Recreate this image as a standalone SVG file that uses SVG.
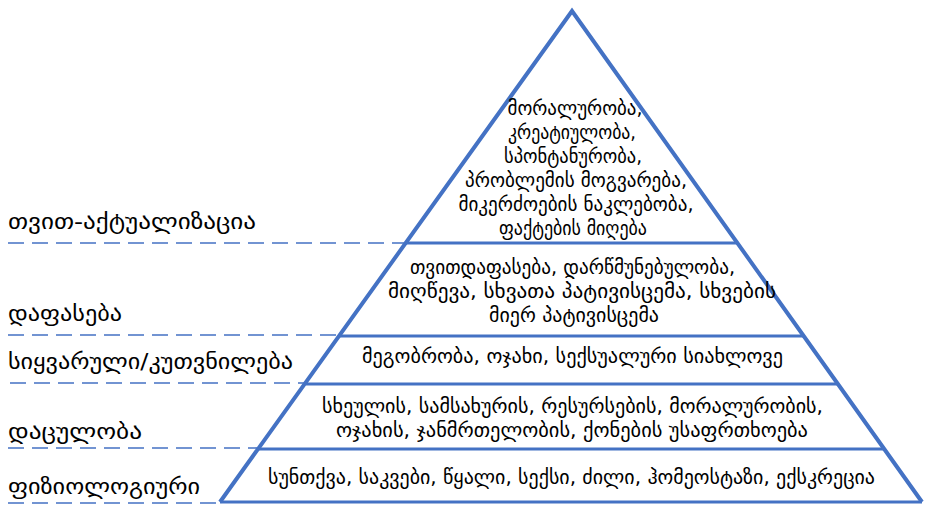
<svg xmlns="http://www.w3.org/2000/svg" width="925" height="505" viewBox="0 0 925 505">
<style>
.edge{stroke:#4472C4;stroke-width:4;fill:none;stroke-linejoin:miter}
.tier{stroke:#4472C4;stroke-width:3;fill:none}
.dash{stroke:#4472C4;stroke-width:1.6;stroke-dasharray:16 8;fill:none}
.in{font-family:"DejaVu Sans",sans-serif;font-size:19px;fill:#000;text-anchor:middle}
.lab{font-family:"DejaVu Sans",sans-serif;font-size:22px;fill:#000}
</style>
<rect width="925" height="505" fill="#fff"/>
<g id="connectors">
<line class="dash" x1="8" y1="243" x2="412" y2="243"/>
<line class="dash" x1="8" y1="335" x2="342" y2="335"/>
<line class="dash" x1="10" y1="383" x2="308" y2="383"/>
<line class="dash" x1="8" y1="448" x2="261" y2="448"/>
<line class="dash" x1="8" y1="503" x2="222" y2="503"/>
</g>
<g id="pyramid">
<polyline class="edge" points="220,502 572,11 922,502"/>
<line class="tier" x1="220" y1="502" x2="922" y2="502"/>
<line class="tier" x1="405" y1="243" x2="738" y2="243"/>
<line class="tier" x1="340" y1="336" x2="803" y2="336"/>
<line class="tier" x1="306" y1="384" x2="837" y2="384"/>
<line class="tier" x1="259" y1="449" x2="884" y2="449"/>
</g>
<g id="tier-self-actualization">
<text class="in" x="575" y="115" textLength="135" lengthAdjust="spacingAndGlyphs">მორალურობა,</text>
<text class="in" x="572" y="139" textLength="128" lengthAdjust="spacingAndGlyphs">კრეატიულობა,</text>
<text class="in" x="573" y="163" textLength="138" lengthAdjust="spacingAndGlyphs">სპონტანურობა,</text>
<text class="in" x="576" y="187" textLength="222" lengthAdjust="spacingAndGlyphs">პრობლემის მოგვარება,</text>
<text class="in" x="576" y="211" textLength="235" lengthAdjust="spacingAndGlyphs">მიკერძოების ნაკლებობა,</text>
<text class="in" x="573" y="235" textLength="148" lengthAdjust="spacingAndGlyphs">ფაქტების მიღება</text>
</g>
<g id="tier-esteem">
<text class="in" x="572.5" y="274" textLength="325" lengthAdjust="spacingAndGlyphs">თვითდაფასება, დარწმუნებულობა,</text>
<text class="in" x="582" y="298" textLength="388" lengthAdjust="spacingAndGlyphs">მიღწევა, სხვათა პატივისცემა, სხვების</text>
<text class="in" x="574" y="322" textLength="170" lengthAdjust="spacingAndGlyphs">მიერ პატივისცემა</text>
</g>
<g id="tier-love">
<text class="in" x="572.5" y="363" textLength="421" lengthAdjust="spacingAndGlyphs">მეგობრობა, ოჯახი, სექსუალური სიახლოვე</text>
</g>
<g id="tier-safety">
<text class="in" x="572.5" y="413" textLength="501" lengthAdjust="spacingAndGlyphs">სხეულის, სამსახურის, რესურსების, მორალურობის,</text>
<text class="in" x="572" y="437" textLength="472" lengthAdjust="spacingAndGlyphs">ოჯახის, ჯანმრთელობის, ქონების უსაფრთხოება</text>
</g>
<g id="tier-physiological">
<text class="in" x="571.5" y="484" textLength="607" lengthAdjust="spacingAndGlyphs">სუნთქვა, საკვები, წყალი, სექსი, ძილი, ჰომეოსტაზი, ექსკრეცია</text>
</g>
<g id="label-self-actualization"><text class="lab" x="8" y="229" textLength="248" lengthAdjust="spacingAndGlyphs">თვით-აქტუალიზაცია</text></g>
<g id="label-esteem"><text class="lab" x="8" y="321" textLength="114" lengthAdjust="spacingAndGlyphs">დაფასება</text></g>
<g id="label-love"><text class="lab" x="8" y="369" textLength="285" lengthAdjust="spacingAndGlyphs">სიყვარული/კუთვნილება</text></g>
<g id="label-safety"><text class="lab" x="8" y="439" textLength="134" lengthAdjust="spacingAndGlyphs">დაცულობა</text></g>
<g id="label-physiological"><text class="lab" x="8" y="494" textLength="192" lengthAdjust="spacingAndGlyphs">ფიზიოლოგიური</text></g>
</svg>
